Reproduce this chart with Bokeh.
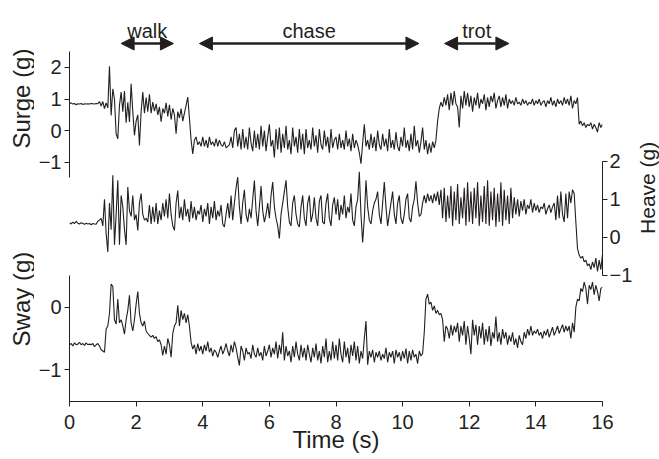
import math
import numpy as np
from bokeh.plotting import figure
from bokeh.layouts import row
from bokeh.models import (Range1d, LinearAxis, FixedTicker, Label, Arrow,
                          NormalHead, ColumnDataSource)
from bokeh.core.properties import value
from bokeh.embed import file_html
from bokeh.resources import INLINE

SAMPLE_DT = 0.05

surge_g = [
    0.85, 0.88, 0.84, 0.86, 0.82, 0.85, 0.84, 0.86, 0.83, 0.85, 0.84, 0.85, 0.84, 0.86, 0.85, 0.84, 0.86, 0.85, 0.92, 0.78,
    0.92, 0.70, 0.88, 0.72, 2.04, 0.48, 1.32, 1.00, -0.10, -0.26, 0.80, 1.22, 0.60, 1.25, 0.25, 0.90, 0.27, 1.48, 0.60, -0.15,
    0.30, 0.50, -0.47, 0.60, 1.22, 0.55, 1.05, 0.60, 1.15, 0.55, 0.90, 0.62, 0.85, 0.50, 0.75, 0.28, 0.70, 0.55, 0.88, 0.45,
    0.82, 0.35, 0.70, 0.50, -0.10, 0.60, 0.40, 0.70, 0.30, 0.55, 0.80, 1.06, 0.40, -0.30, -0.74, -0.30, -0.20, -0.45, -0.35, -0.50,
    -0.20, -0.50, -0.30, -0.55, -0.20, -0.45, -0.35, -0.50, -0.25, -0.50, -0.30, -0.45, -0.50, -0.35, -0.55, -0.50, -0.45, -0.20, -0.55, 0.00,
    0.10, -0.50, -0.10, -0.60, 0.05, -0.55, -0.20, -0.60, 0.10, -0.40, -0.65, 0.00, -0.55, -0.10, -0.60, 0.15, -0.50, 0.00, -0.65, -0.20,
    0.20, -0.50, -0.30, -0.85, 0.05, -0.60, 0.10, -0.70, -0.10, -0.55, 0.15, -0.60, -0.30, -0.75, 0.10, -0.50, -0.20, -0.70, 0.05, -0.60,
    -0.10, -0.75, 0.05, -0.55, -0.30, -0.60, 0.10, -0.50, -0.15, -0.70, 0.05, -0.45, -0.60, 0.00, -0.50, -0.20, -0.70, 0.05, -0.55, -0.30,
    -0.20, -0.60, -0.10, -0.55, -0.30, -0.60, 0.00, -0.50, -0.25, -0.65, -0.10, -0.55, -0.30, -0.45, -0.70, -1.05, -0.40, 0.20, -0.50, -0.30,
    -0.60, -0.10, -0.55, -0.20, -0.65, 0.00, -0.45, -0.60, -0.10, -0.50, -0.25, -0.65, 0.05, -0.55, -0.30, -0.60, -0.05, -0.50, -0.65, -0.20,
    -0.50, 0.10, -0.55, -0.30, -0.65, -0.10, -0.60, 0.15, -0.50, -0.30, -0.70, -0.35, 0.10, -0.60, -0.30, -0.75, -0.40, -0.70, -0.35, -0.55,
    -0.30, 0.30, 0.70, 0.90, 0.75, 1.05, 0.80, 1.15, 0.65, 1.20, 0.80, 1.25, 0.85, 0.75, 0.10, 1.10, 0.70, 1.25, 0.80, 1.20,
    0.75, 1.10, 0.60, 1.05, 0.80, 1.20, 0.70, 1.00, 0.85, 1.15, 0.65, 1.05, 0.75, 1.10, 0.90, 1.20, 0.70, 0.95, 1.10, 0.75,
    1.05, 0.80, 1.15, 0.70, 1.00, 0.85, 0.95, 0.80, 1.05, 0.85, 0.90, 0.80, 1.00, 0.85, 0.95, 0.80, 0.90, 0.85, 1.00, 0.80,
    0.95, 0.85, 1.00, 0.80, 0.90, 0.95, 0.75, 0.95, 0.85, 1.05, 0.80, 0.95, 0.75, 1.00, 0.85, 0.95, 0.80, 1.05, 0.85, 1.00,
    0.80, 1.10, 0.70, 0.95, 0.85, 1.05, 0.20, 0.30, 0.15, 0.25, 0.10, 0.20, 0.15, 0.25, 0.05, 0.20, 0.10, -0.05, 0.25, 0.10,
    0.20,
]

heave_g = [
    0.38, 0.35, 0.40, 0.36, 0.42, 0.37, 0.35, 0.38, 0.36, 0.34, 0.37, 0.35, 0.36, 0.33, 0.36, 0.35, 0.34, 0.42, 0.45, 0.50,
    0.30, 1.00, 0.10, -0.39, 0.90, 0.20, 1.63, -0.20, 0.60, 1.50, -0.20, 1.10, 0.80, 0.20, -0.20, 1.32, 0.70, 0.55, 1.10, 0.45,
    0.60, 0.18, 0.90, 1.15, 0.60, 0.45, 0.50, 0.40, 0.85, 0.35, 0.80, 0.40, 0.90, 0.35, 0.70, 0.45, 0.90, 0.55, 1.00, 0.50,
    1.15, 0.60, 0.30, 0.18, 0.90, 1.23, 0.50, 0.80, 0.45, 1.00, 0.55, 0.75, 0.40, 0.95, 0.50, 0.80, 0.45, 0.70, 0.60, 0.85,
    0.40, 0.75, 0.55, 0.90, 0.35, 0.80, 0.50, 0.95, 0.45, 0.70, 0.55, 0.85, 0.35, 0.27, 0.60, 0.90, 0.50, 1.10, 0.45, 0.90,
    1.30, 1.58, 0.80, 0.35, 0.90, 1.25, 0.60, 0.40, 0.75, 0.50, 1.00, 1.49, 0.70, 0.30, 0.80, 1.35, 0.70, 0.40, 0.60, 0.90,
    0.50, 1.10, 1.45, 0.80, 0.50, 0.30, -0.03, 0.60, 0.90, 1.20, 1.50, 0.80, 0.40, 0.30, 0.90, 1.10, 0.60, 0.35, 0.27, 0.80,
    1.10, 0.50, 0.30, 0.90, 1.10, 0.40, 0.60, 1.05, 0.50, 0.30, 0.95, 1.10, 0.40, 0.35, 0.90, 1.15, 0.50, 0.30, 0.85, 1.05,
    0.60, 1.00, 0.45, 0.85, 0.60, 1.10, 0.50, 0.80, 0.65, 1.15, 0.45, 0.30, 0.80, 1.00, 1.72, 0.60, -0.14, 0.50, 1.50, 0.80,
    0.45, 0.35, 0.70, 0.90, 1.00, 1.20, 0.60, 0.35, 0.90, 1.45, 0.80, 0.30, 0.60, 0.90, 1.20, 0.60, 0.35, 0.90, 1.10, 0.50,
    0.35, 0.60, 1.00, 1.15, 0.50, 0.40, 0.80, 1.00, 1.47, 0.90, 0.55, 0.60, 0.90, 1.10, 0.90, 1.15, 0.95, 1.10, 0.90, 1.15,
    0.95, 1.20, 0.85, 1.25, 0.50, 1.30, 0.40, 1.10, 0.50, 1.35, 0.30, 1.20, 0.45, 1.40, 0.35, 1.05, 0.50, 1.30, 0.30, 1.45,
    0.40, 1.20, 0.35, 1.30, 0.50, 1.45, 0.30, 1.10, 0.40, 1.35, 0.35, 1.50, 0.30, 1.20, 0.45, 1.30, 0.28, 1.15, 0.40, 1.45,
    0.30, 1.25, 0.45, 1.10, 0.35, 1.30, 0.50, 1.05, 0.60, 1.00, 0.55, 0.95, 0.70, 1.00, 0.60, 0.85, 0.75, 1.00, 0.65, 0.90,
    0.70, 0.85, 0.65, 0.80, 0.75, 0.90, 0.60, 0.75, 0.85, 0.65, 0.80, 0.90, 0.45, 1.10, 0.50, 1.20, 0.60, 0.40, 1.15, 0.50,
    1.20, 0.90, 1.25, 1.15, 0.40, -0.30, -0.47, -0.55, -0.50, -0.65, -0.60, -0.75, -0.70, -0.85, -0.65, -0.80, -0.55, -0.90, -0.60, -0.85,
    -0.45,
]

sway_g = [
    -0.60, -0.58, -0.62, -0.57, -0.60, -0.59, -0.56, -0.60, -0.58, -0.61, -0.57, -0.60, -0.59, -0.60, -0.58, -0.63, -0.60, -0.58, -0.62, -0.68,
    -0.70, -0.72, -0.35, -0.30, -0.10, 0.37, 0.33, -0.20, -0.27, 0.13, -0.25, -0.20, -0.30, -0.43, -0.20, -0.05, 0.19, -0.25, -0.38, -0.20,
    0.05, 0.25, -0.10, -0.25, -0.30, -0.22, -0.38, -0.42, -0.45, -0.48, -0.45, -0.50, -0.47, -0.55, -0.52, -0.60, -0.77, -0.62, -0.75, -0.50,
    -0.60, -0.80, -0.42, -0.30, -0.25, 0.03, -0.30, -0.05, -0.20, -0.10, -0.25, -0.12, -0.30, -0.56, -0.67, -0.60, -0.75, -0.58, -0.70, -0.62,
    -0.75, -0.60, -0.70, -0.55, -0.72, -0.65, -0.78, -0.68, -0.72, -0.80, -0.70, -0.62, -0.75, -0.68, -0.58, -0.70, -0.78, -0.60, -0.72, -0.55,
    -0.65, -0.80, -0.93, -0.62, -0.70, -0.85, -0.65, -0.75, -0.72, -0.82, -0.60, -0.75, -0.80, -0.65, -0.78, -0.72, -0.85, -0.62, -0.78, -0.70,
    -0.60, -0.80, -0.65, -0.75, -0.55, -0.82, -0.60, -0.75, -0.40, -0.85, -0.62, -0.78, -0.70, -0.88, -0.62, -0.80, -0.55, -0.75, -0.85, -0.60,
    -0.80, -0.65, -0.85, -0.60, -0.75, -0.88, -0.65, -0.80, -0.58, -0.85, -0.70, -0.90, -0.62, -0.80, -0.50, -0.88, -0.70, -0.85, -0.55, -0.82,
    -0.60, -0.85, -0.50, -0.75, -0.88, -0.55, -0.80, -0.65, -0.90, -0.60, -0.78, -0.55, -0.85, -0.62, -0.90, -0.70, -0.82, -0.50, -0.22, -0.92,
    -0.70, -0.80, -0.68, -0.88, -0.72, -0.80, -0.70, -0.85, -0.75, -0.82, -0.65, -0.88, -0.72, -0.80, -0.70, -0.90, -0.68, -0.80, -0.72, -0.86,
    -0.70, -0.82, -0.66, -0.90, -0.70, -0.85, -0.68, -0.80, -0.75, -0.90, -0.70, -0.78, -0.74, -0.40, 0.13, 0.21, 0.05, 0.08, -0.05, 0.02,
    -0.10, -0.05, -0.12, -0.10, -0.20, -0.55, -0.30, -0.35, -0.50, -0.28, -0.45, -0.30, -0.40, -0.25, -0.55, -0.30, -0.45, -0.22, -0.60, -0.30,
    -0.50, -0.75, -0.20, -0.45, -0.28, -0.60, -0.30, -0.50, -0.25, -0.60, -0.35, -0.55, -0.30, -0.62, -0.40, -0.50, -0.15, -0.55, -0.40, -0.60,
    -0.35, -0.50, -0.40, -0.60, -0.45, -0.55, -0.40, -0.60, -0.50, -0.65, -0.45, -0.55, -0.60, -0.40, -0.50, -0.35, -0.45, -0.30, -0.45, -0.38,
    -0.42, -0.35, -0.45, -0.40, -0.50, -0.38, -0.45, -0.35, -0.48, -0.40, -0.32, -0.45, -0.38, -0.30, -0.42, -0.35, -0.28, -0.40, -0.30, -0.38,
    -0.30, -0.50, -0.25, -0.40, 0.00, 0.13, 0.10, 0.30, 0.25, 0.40, 0.30, 0.05, 0.35, 0.28, 0.40, 0.20, 0.35, 0.25, 0.10, 0.30,
    0.32,
]

behaviours = ["walk", "chase", "trot"]
behaviour_start_s = [1.55, 3.90, 11.26]
behaviour_end_s = [3.12, 10.49, 13.19]

time_ticks = [0, 2, 4, 6, 8, 10, 12, 14, 16]
surge_ticks = [2, 1, 0, -1]
heave_ticks = [2, 1, 0, -1]
sway_ticks = [0, -1]

surge_bounds = (-1.5, 2.5)
heave_bounds = (-1.0, 2.0)
sway_bounds = (-1.5, 0.5)

# ---------------- layout (page pixels) ----------------
INK = "#231f20"
FONT = "Liberation Sans"
W, H = 659, 458
LEFT_W, RIGHT_W = 34, 24            # side strips holding the rotated titles
MAIN_W = W - LEFT_W - RIGHT_W
FRAME_LEFT, FRAME_RIGHT = 69, 602   # page x of t=0 and t=16
FRAME_TOP, FRAME_BOTTOM = 0, 401
B_LEFT = FRAME_LEFT - LEFT_W
B_RIGHT = LEFT_W + MAIN_W - FRAME_RIGHT
B_TOP = FRAME_TOP
B_BOTTOM = H - FRAME_BOTTOM
X0, X1 = 0.0, 16.0

# page pixel of the zero line and pixels per g for each trace
SURGE_ZERO, SURGE_PPG = 130.1, 31.57
HEAVE_ZERO, HEAVE_PPG = 236.75, 38.0
SWAY_ZERO, SWAY_PPG = 306.7, 62.6


def make_range(zero, ppg):
    return Range1d(start=(zero - FRAME_BOTTOM) / ppg, end=(zero - FRAME_TOP) / ppg)


def px_to_sway(py):
    return (SWAY_ZERO - py) / SWAY_PPG


def minus(v):
    return str(v).replace("-", "\u2212")


p = figure(width=MAIN_W, height=H, output_backend="svg", toolbar_location=None,
           x_range=Range1d(X0, X1), y_range=make_range(SWAY_ZERO, SWAY_PPG),
           y_axis_location=None,
           min_border_left=B_LEFT, min_border_right=B_RIGHT,
           min_border_top=B_TOP, min_border_bottom=B_BOTTOM,
           outline_line_color=None, background_fill_color="white",
           border_fill_color="white")
p.grid.visible = False
p.extra_y_ranges = {"surge": make_range(SURGE_ZERO, SURGE_PPG),
                    "heave": make_range(HEAVE_ZERO, HEAVE_PPG)}

# traces
for vals, rng in [(surge_g, "surge"), (heave_g, "heave"), (sway_g, "default")]:
    t = np.arange(len(vals)) * SAMPLE_DT
    src = ColumnDataSource(dict(t=t, g=vals))
    p.line("t", "g", source=src, y_range_name=rng, line_color=INK, line_width=1.1)

# x axis
xa = p.xaxis[0]
xa.ticker = FixedTicker(ticks=time_ticks)
xa.axis_label = "Time (s)"
xa.axis_label_text_font = FONT
xa.axis_label_text_font_size = "24px"
xa.axis_label_text_font_style = "normal"
xa.axis_label_text_color = INK
xa.axis_label_text_line_height = 1.0
xa.axis_label_standoff = -6
xa.major_label_text_font = FONT
xa.major_label_text_font_size = "20px"
xa.major_label_text_line_height = 1.0
xa.major_label_text_color = INK
xa.major_label_standoff = 8
xa.major_tick_out = 5
xa.major_tick_in = 0
xa.minor_tick_out = 0
xa.minor_tick_in = 0
xa.axis_line_color = INK
xa.major_tick_line_color = INK


def spine_axis(range_name, bounds):
    return LinearAxis(y_range_name=range_name, bounds=bounds,
                      ticker=FixedTicker(ticks=[]),
                      major_tick_out=0, major_tick_in=0,
                      minor_tick_out=0, minor_tick_in=0,
                      major_label_standoff=0, axis_line_color=INK,
                      major_label_text_font_size="0px")


# left spines (zero width) then one axis carrying the ticks/labels of both
p.add_layout(spine_axis("surge", surge_bounds), "left")
p.add_layout(spine_axis("default", sway_bounds), "left")


def surge_to_sway_units(v):
    return round(px_to_sway(SURGE_ZERO - SURGE_PPG * v), 4)


left_ticks = [surge_to_sway_units(v) for v in surge_ticks] + [float(v) for v in sway_ticks]
left_labels = [minus(v) for v in surge_ticks] + [minus(v) for v in sway_ticks]
left_axis = LinearAxis(ticker=FixedTicker(ticks=left_ticks),
                       major_label_overrides={k: l for k, l in zip(left_ticks, left_labels)},
                       axis_line_color=None, major_tick_out=5, major_tick_in=0,
                       minor_tick_out=0, minor_tick_in=0,
                       major_tick_line_color=INK, major_label_standoff=3,
                       major_label_text_font=FONT, major_label_text_font_size="20px",
                       major_label_text_color=INK)
p.add_layout(left_axis, "left")

heave_axis = LinearAxis(y_range_name="heave", bounds=heave_bounds,
                        ticker=FixedTicker(ticks=heave_ticks),
                        major_label_overrides={v: minus(v) for v in heave_ticks if v < 0},
                        axis_line_color=INK, major_tick_out=5, major_tick_in=0,
                        minor_tick_out=0, minor_tick_in=0,
                        major_tick_line_color=INK, major_label_standoff=2,
                        major_label_text_font=FONT, major_label_text_font_size="20px",
                        major_label_text_color=INK)
p.add_layout(heave_axis, "right")

# behaviour arrows and labels
ARROW_Y = px_to_sway(43)
LABEL_Y = px_to_sway(30)
for name, s, e in zip(behaviours, behaviour_start_s, behaviour_end_s):
    p.add_layout(Arrow(start=NormalHead(size=13, fill_color=INK, line_color=INK, line_width=1),
                       end=NormalHead(size=13, fill_color=INK, line_color=INK, line_width=1),
                       x_start=s, y_start=ARROW_Y, x_end=e, y_end=ARROW_Y,
                       line_color=INK, line_width=2.5))
    p.add_layout(Label(x=(s + e) / 2, y=LABEL_Y, text=name, text_align="center",
                       text_baseline="alphabetic", text_font=FONT,
                       text_font_size="20px", text_color=INK))


# side strips with the rotated y titles (page pixel coordinates)
def title_strip(width, x0_page, titles, size):
    f = figure(width=width, height=H, output_backend="svg", toolbar_location=None,
               x_range=Range1d(x0_page, x0_page + width), y_range=Range1d(H, 0),
               x_axis_location=None, y_axis_location=None,
               min_border=0, min_border_left=0, min_border_right=0,
               min_border_top=0, min_border_bottom=0,
               outline_line_color=None, background_fill_color="white",
               border_fill_color="white")
    f.grid.visible = False
    f.text(x=[t[1] for t in titles], y=[t[2] for t in titles], text=[t[0] for t in titles],
           angle=math.pi / 2, text_align="center", text_baseline="middle",
           text_font=value(FONT), text_font_size=value(size), text_color=INK)
    return f


left_strip = title_strip(LEFT_W, 0, [("Surge (g)", 20.5, 112), ("Sway (g)", 20.5, 341)], "24px")
right_strip = title_strip(RIGHT_W, LEFT_W + MAIN_W, [("Heave (g)", 647, 214)], "21px")

layout = row(left_strip, p, right_strip, spacing=0)
open("out.html", "w").write(file_html(layout, INLINE))
